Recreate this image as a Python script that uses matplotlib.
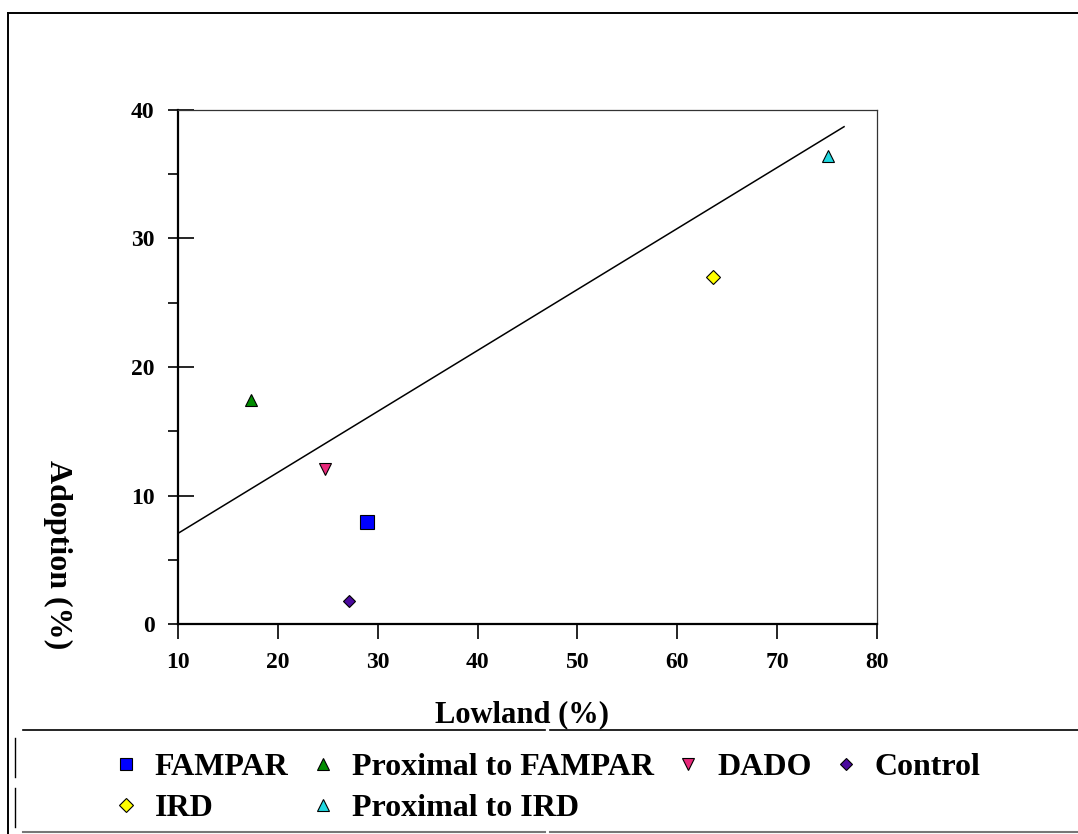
import matplotlib
matplotlib.use('Agg')
import matplotlib.pyplot as plt
from matplotlib.lines import Line2D
from matplotlib.ticker import MultipleLocator

plt.rcParams['font.family'] = ['Liberation Serif', 'DejaVu Serif']
plt.rcParams['font.weight'] = 'bold'

# data
groups = ['FAMPAR', 'Proximal to FAMPAR', 'DADO', 'Control', 'IRD', 'Proximal to IRD']
lowland = [28.9, 17.3, 24.7, 27.1, 63.6, 75.1]
adoption = [7.9, 17.4, 12.1, 1.8, 27.0, 36.4]
markers = ['s', '^', 'v', 'D', 'D', '^']
colors = ['#0000ff', '#008c00', '#e8287a', '#4b0a9e', '#ffff00', '#20d8e0']
sizes = [9.5, 8.5, 8.5, 6, 7, 8.5]

# trend line end points
fit_x = [10.1, 76.7]
fit_y = [7.1, 38.7]

W, H = 1078, 834
fig = plt.figure(figsize=(W / 100, H / 100), dpi=100)
ax = fig.add_axes([178 / W, 1 - 624 / H, (877 - 178) / W, (624 - 110) / H])

handles = []
for g, x, y, m, c, s in zip(groups, lowland, adoption, markers, colors, sizes):
    h, = ax.plot(x, y, linestyle='none', marker=m, ms=s, mfc=c, mec='black', mew=0.8, label=g)
    handles.append(h)
ax.plot(fit_x, fit_y, color='black', lw=1.1)

ax.set_xlim(10, 80)
ax.set_ylim(0, 40)
ax.xaxis.set_major_locator(MultipleLocator(10))
ax.yaxis.set_major_locator(MultipleLocator(10))
ax.yaxis.set_minor_locator(MultipleLocator(5))
ax.yaxis.remove_overlapping_locs = False
ax.tick_params(axis='y', which='major', direction='in', length=11.5, width=1.2, pad=17, labelsize=17)
ax.tick_params(axis='y', which='minor', direction='out', length=7, width=1.2)
ax.tick_params(axis='x', which='major', direction='out', length=11, width=1.2, pad=9, labelsize=17)

for s in ['left', 'bottom']:
    ax.spines[s].set_linewidth(1.6)
for s in ['top', 'right']:
    ax.spines[s].set_linewidth(0.9)
    ax.spines[s].set_color('#333333')

fig.text(522 / W, 1 - 715 / H, 'Lowland (%)', ha='center', va='center', fontsize=22)
fig.text(58 / W, 1 - 555 / H, 'Adoption (%)', rotation=-90, ha='center', va='center', fontsize=23)

# outer frame pieces
def seg(x0, y0, x1, y1, **kw):
    fig.add_artist(Line2D([x0 / W, x1 / W], [1 - y0 / H, 1 - y1 / H], transform=fig.transFigure, **kw))

seg(8, 13, 1078, 13, color='black', lw=1.4)
seg(8, 13, 8, 834, color='black', lw=1.4)
seg(23, 730, 545, 730, color='black', lw=1.2)
seg(550, 730, 1078, 730, color='black', lw=1.2)
seg(23, 832, 545, 832, color='#777777', lw=1.5)
seg(550, 832, 1078, 832, color='#777777', lw=1.5)
seg(15, 738, 15, 777, color='black', lw=1.0)
seg(15, 788, 15, 827, color='black', lw=1.0)

order = [0, 4, 1, 5, 2, 3]
fig.legend([handles[i] for i in order], [groups[i] for i in order], ncol=4,
           loc='upper left', bbox_to_anchor=(110 / W, 1 - 753 / H), frameon=False,
           fontsize=23, handlelength=1.0, handletextpad=0.4, columnspacing=0.58,
           labelspacing=0.36, borderpad=0, borderaxespad=0, markerscale=0.95)

fig.savefig('out.png', dpi=100)
